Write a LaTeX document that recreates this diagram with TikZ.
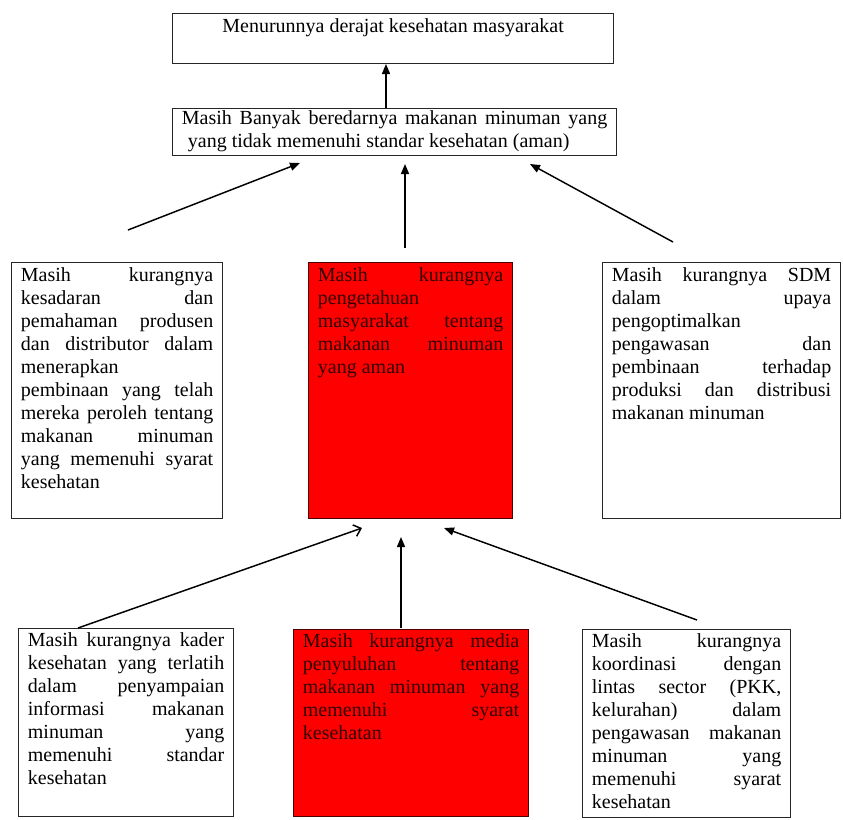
\documentclass[tikz,border=0pt]{standalone}
\usepackage{fontspec}
\setmainfont{Liberation Serif}
\usepackage{xcolor}
\usetikzlibrary{arrows.meta}
\definecolor{merah}{HTML}{FF0000}
\definecolor{merahtua}{HTML}{4A0000}
\definecolor{teksmerah}{HTML}{300000}
\hbadness=10000
\vbadness=10000
\newcommand{\isi}[3]{\parbox[t][#2][t]{#1}{#3}}

\begin{document}
\begin{tikzpicture}[x=0.75pt,y=-0.75pt,
  kotak/.style={draw=black!85,line width=0.9pt,anchor=north west,inner xsep=7pt,inner ysep=4pt,font=\fontsize{15}{17.2}\selectfont},
  kotakmerah/.style={kotak,fill=merah,draw=merahtua,text=teksmerah},
  arr/.style={-{Triangle[length=7.5pt,width=6pt]},line width=1.1pt},
  arrbuka/.style={-{Straight Barb[length=5pt,width=9pt]},line width=1.1pt}
]
\useasboundingbox (0,0) rectangle (843,819);
% atas
\node[kotak] (ta) at (172,13) {\isi{316.75pt}{29.5pt}{\centering Menurunnya derajat kesehatan masyarakat}};
\node[kotak,inner ysep=1.5pt] (tb) at (172,108) {\isi{319pt}{32.25pt}{Masih Banyak beredarnya makanan minuman yang\linebreak\hspace*{0.3em}yang tidak memenuhi standar kesehatan (aman)}};
% baris tengah
\node[kotak] (kl) at (11,262) {\isi{144.25pt}{184pt}{Masih kurangnya\linebreak kesadaran dan\linebreak pemahaman produsen\linebreak dan distributor dalam\linebreak menerapkan\linebreak pembinaan yang telah\linebreak mereka peroleh tentang\linebreak makanan minuman\linebreak yang memenuhi syarat\linebreak kesehatan}};
\node[kotakmerah] (km) at (308,262) {\isi{139pt}{184pt}{Masih kurangnya\linebreak pengetahuan\linebreak masyarakat tentang\linebreak makanan minuman\linebreak yang aman}};
\node[kotak] (kr) at (602,262) {\isi{164.5pt}{184pt}{Masih kurangnya SDM\linebreak dalam upaya\linebreak pengoptimalkan\linebreak pengawasan dan\linebreak pembinaan terhadap\linebreak produksi dan distribusi\linebreak makanan minuman}};
% baris bawah
\node[kotak,inner ysep=3pt] (bl) at (18,628) {\isi{147.25pt}{135pt}{Masih kurangnya kader\linebreak kesehatan yang terlatih\linebreak dalam penyampaian\linebreak informasi makanan\linebreak minuman yang\linebreak memenuhi standar\linebreak kesehatan}};
\node[kotakmerah,inner ysep=3pt] (bm) at (293,629) {\isi{162.25pt}{134.25pt}{Masih kurangnya media\linebreak penyuluhan tentang\linebreak makanan minuman yang\linebreak memenuhi syarat\linebreak kesehatan}};
\node[kotak,inner ysep=3pt] (br) at (582,629) {\isi{142pt}{135pt}{Masih kurangnya\linebreak koordinasi dengan\linebreak lintas sector (PKK,\linebreak kelurahan) dalam\linebreak pengawasan makanan\linebreak minuman yang\linebreak memenuhi syarat\linebreak kesehatan}};
% ujung panah
\coordinate (u1) at (386,108);  \coordinate (v1) at (386,64);
\coordinate (u2) at (128,230);  \coordinate (v2) at (300,163);
\coordinate (u3) at (405,248);  \coordinate (v3) at (405,164);
\coordinate (u4) at (673,242);  \coordinate (v4) at (530,164);
\coordinate (u5) at (78,628);   \coordinate (v5) at (362,528);
\coordinate (u6) at (401,628);  \coordinate (v6) at (401,537);
\coordinate (u7) at (697,620);  \coordinate (v7) at (444,528);
\draw[arr] (u1) -- (v1);
\draw[arr] (u2) -- (v2);
\draw[arr] (u3) -- (v3);
\draw[arr] (u4) -- (v4);
\draw[arrbuka] (u5) -- (v5);
\draw[arr] (u6) -- (v6);
\draw[arr] (u7) -- (v7);
\end{tikzpicture}
\end{document}
